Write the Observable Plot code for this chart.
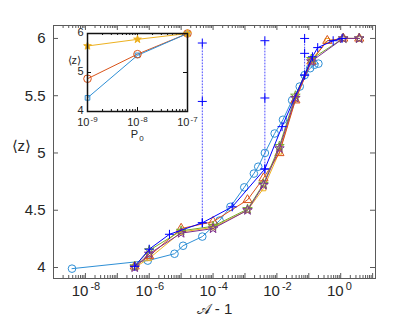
<!DOCTYPE html>
<html><head><meta charset="utf-8">
<script src="https://cdn.jsdelivr.net/npm/d3@7"></script>
<script src="https://cdn.jsdelivr.net/npm/@observablehq/plot@0.6"></script>
<style>
body{margin:0;background:#fff;}
#wrap{position:relative;width:415px;height:328px;overflow:hidden;}
#inset{position:absolute;left:54px;top:26px;}
</style></head><body><div id="wrap"><div id="main"></div><div id="inset"></div></div>
<script>
// ---------- main chart data ----------
const circX = [3.8e-9, 9e-7, 6.2e-6, 1.15e-5, 4.6e-5, 1.6e-4, 3.5e-4, 9.5e-4, 1.9e-3, 2.6e-3, 4.2e-3, 8.5e-3, 0.0155, 0.030, 0.052, 0.074, 0.11, 0.15, 0.20];
const circY = [3.99, 4.06, 4.12, 4.19, 4.27, 4.41, 4.53, 4.70, 4.82, 4.88, 5.00, 5.17, 5.29, 5.46, 5.58, 5.68, 5.74, 5.77, 5.78];

const plusX = [3.5e-7, 1e-6, 4.3e-6, 4.6e-5, 4e-4, 4.2e-3, 0.0145, 0.074, 0.13, 0.19, 0.58, 1.1];
const plusY = [4.01, 4.16, 4.29, 4.39, 4.53, 4.86, 5.23, 5.68, 5.84, 5.92, 5.98, 6.00];

const clusterX = [3.5e-7, 1e-6, 1e-5, 1e-4, 1.2e-3, 3.8e-3, 0.012, 0.038, 0.12, 0.38, 1.2, 3.8];
const triY   = [4.01, 4.10, 4.34, 4.40, 4.59, 4.78, 5.00, 5.46, 5.80, 5.98, 6.00, 6.00];
const sqY    = [4.00, 4.08, 4.31, 4.35, 4.50, 4.69, 5.01, 5.47, 5.81, 5.98, 6.00, 6.00];
const greenY = [4.01, 4.15, 4.32, 4.36, 4.51, 4.73, 5.06, 5.50, 5.82, null, 6.00, 6.00];
const purpY  = [4.00, 4.12, 4.30, 4.34, 4.50, 4.72, 5.04, 5.48, 5.80, null, 6.00, 6.00];

// dotted vertical spreads (x, y) with plus markers
const dotX = [4.6e-5, 4.6e-5, 4.6e-5, 4.2e-3, 4.2e-3, 4.2e-3, 0.074, 0.074, 0.074];
const dotY = [4.39, 5.45, 5.96, 4.86, 5.48, 5.98, 5.68, 5.87, 6.00];
const dotG = ["a", "a", "a", "b", "b", "b", "c", "c", "c"];

const xMajor = [1e-8, 1e-6, 1e-4, 1e-2, 1];
const xMajorExp = ["-8", "-6", "-4", "-2", "0"];
const yTicks = [4, 4.5, 5, 5.5, 6];
const yTickLabels = ["4", "4.5", "5", "5.5", "6"];

// ---------- inset data ----------
const insetX = [1e-9, 1e-8, 1e-7];
const insetBlue = [4.35, 5.44, 6.0];
const insetOrange = [4.84, 5.47, 6.0];
const insetYellow = [5.68, 5.85, 6.0];
const insetXTicks = [1e-9, 1e-8, 1e-7];
const insetXExp = ["-9", "-8", "-7"];
const insetYTicks = [4, 5, 6];
const insetYLabels = ["4", "5", "6"];

const C = {lb: "#2E8FD6", db: "#0000FF", or: "#D95319", ye: "#EDB120", pu: "#7E2F8E", gr: "#77AC30"};
const font = "'Liberation Sans', Arial, Helvetica, sans-serif";

const zip = (xs, ys) => xs.map((x, i) => ({x, y: ys[i]})).filter(d => d.y != null);

// log minor ticks
function logTicks(lo, hi) {
  const major = [], minor = [];
  for (let e = Math.floor(Math.log10(lo)); e <= Math.ceil(Math.log10(hi)); e++) {
    for (let m = 1; m <= 9; m++) {
      const v = m * Math.pow(10, e);
      if (v < lo * 0.9999 || v > hi * 1.0001) continue;
      (m === 1 ? major : minor).push(v);
    }
  }
  return {major, minor};
}

// ---------- main plot ----------
const W = 415, H = 328, mL = 53, mR = 40, mT = 25, mB = 50;
const fw = W - mL - mR, fh = H - mT - mB;
const xDomain = [1e-9, 12.3], yDomain = [3.904, 6.113];
const lt = logTicks(xDomain[0], xDomain[1]);
const frameC = "#5a5a5a";

const series = [
  {data: zip(circX, circY), color: C.lb, symbol: "circle", r: 3.8},
  {data: zip(clusterX, sqY), color: C.ye, symbol: "square", r: 2.6},
  {data: zip(clusterX, triY), color: C.or, symbol: "triangle", r: 3.4},
  {data: zip(clusterX, greenY), color: C.gr, symbol: "star", r: 3.0},
  {data: zip(clusterX, purpY), color: C.pu, symbol: "star", r: 3.0},
  {data: zip(plusX, plusY), color: C.db, symbol: "plus", r: 3.0}
];

const dotData = dotX.map((x, i) => ({x, y: dotY[i], g: dotG[i]}));

const marks = [
  Plot.tickX(lt.minor, {x: d => d, insetTop: fh - 3, stroke: frameC}),
  Plot.tickX(lt.minor, {x: d => d, insetBottom: fh - 3, stroke: frameC}),
  Plot.tickX(lt.major, {x: d => d, insetTop: fh - 5, stroke: frameC}),
  Plot.tickX(lt.major, {x: d => d, insetBottom: fh - 5, stroke: frameC}),
  Plot.tickY(yTicks, {y: d => d, insetRight: fw - 5, stroke: frameC}),
  Plot.tickY(yTicks, {y: d => d, insetLeft: fw - 5, stroke: frameC}),
  Plot.line(dotData, {x: "x", y: "y", z: "g", stroke: "#4a4aff", strokeWidth: 1, strokeDasharray: "1,2"}),
  Plot.dot(dotData, {x: "x", y: "y", symbol: "plus", r: 3.0, stroke: C.db, strokeWidth: 1})
];
for (const s of series) {
  marks.push(Plot.line(s.data, {x: "x", y: "y", stroke: s.color, strokeWidth: 1}));
  marks.push(Plot.dot(s.data, {x: "x", y: "y", symbol: s.symbol, r: s.r, stroke: s.color, fill: "none", strokeWidth: 1}));
}
marks.push(
  Plot.frame({stroke: frameC}),
  Plot.text(yTicks, {y: d => d, text: (d, i) => yTickLabels[i], frameAnchor: "left", textAnchor: "end", dx: -8, fontSize: 15, fill: "#262626"}),
  Plot.text(xMajor, {x: d => d, text: () => "10", frameAnchor: "bottom", textAnchor: "end", dx: 3, dy: 17, fontSize: 15, fill: "#262626"}),
  Plot.text(xMajor, {x: d => d, text: (d, i) => xMajorExp[i], frameAnchor: "bottom", textAnchor: "start", dx: 5, dy: 11, fontSize: 11, fill: "#262626"}),
  Plot.text(["\u{1D49C} - 1"], {frameAnchor: "bottom", dy: 35, fontSize: 15, fill: "#262626"}),
  Plot.text(["\u27E8z\u27E9"], {frameAnchor: "left", dx: -42, dy: -6, fontSize: 15, fill: "#262626"})
);

const main = Plot.plot({
  width: W, height: H, marginLeft: mL, marginRight: mR, marginTop: mT, marginBottom: mB,
  x: {type: "log", domain: xDomain, axis: null},
  y: {domain: yDomain, axis: null},
  style: {fontFamily: font, background: "white"},
  marks
});
document.getElementById("main").appendChild(main);

// ---------- inset ----------
const iW = 140, iH = 122, iL = 33, iR = 7, iT = 7, iB = 37;
const ifw = iW - iL - iR, ifh = iH - iT - iB;
const ilt = logTicks(1e-9, 1e-7);
const insetMarks = [
  Plot.tickX(ilt.minor, {x: d => d, insetTop: ifh - 2, stroke: "#111"}),
  Plot.tickX(ilt.minor, {x: d => d, insetBottom: ifh - 2, stroke: "#111"}),
  Plot.tickX(ilt.major, {x: d => d, insetTop: ifh - 4, stroke: "#111"}),
  Plot.tickX(ilt.major, {x: d => d, insetBottom: ifh - 4, stroke: "#111"}),
  Plot.tickY(insetYTicks, {y: d => d, insetRight: ifw - 4, stroke: "#111"}),
  Plot.tickY(insetYTicks, {y: d => d, insetLeft: ifw - 4, stroke: "#111"}),
  Plot.line(zip(insetX, insetYellow), {x: "x", y: "y", stroke: C.ye, strokeWidth: 1}),
  Plot.line(zip(insetX, insetOrange), {x: "x", y: "y", stroke: C.or, strokeWidth: 1}),
  Plot.line(zip(insetX, insetBlue), {x: "x", y: "y", stroke: C.lb, strokeWidth: 1}),
  Plot.dot(zip(insetX, insetBlue), {x: "x", y: "y", symbol: "square", r: 2.6, stroke: C.lb, fill: "none", strokeWidth: 1}),
  Plot.dot(zip(insetX, insetOrange), {x: "x", y: "y", symbol: "circle", r: 3.8, stroke: C.or, fill: "none", strokeWidth: 1}),
  Plot.dot(zip(insetX, insetYellow), {x: "x", y: "y", symbol: "star", r: 2.4, stroke: C.ye, fill: C.ye, strokeWidth: 1}),
  Plot.frame({stroke: "#111", strokeWidth: 1.5}),
  Plot.text(insetYTicks, {y: d => d, text: (d, i) => insetYLabels[i], frameAnchor: "left", textAnchor: "end", dx: -4, dy: -1, fontSize: 11, fill: "#262626"}),
  Plot.text(insetXTicks, {x: d => d, text: () => "10", frameAnchor: "bottom", textAnchor: "end", dx: 2, dy: 14, fontSize: 11, fill: "#262626"}),
  Plot.text(insetXTicks, {x: d => d, text: (d, i) => insetXExp[i], frameAnchor: "bottom", textAnchor: "start", dx: 3, dy: 10, fontSize: 8, fill: "#262626"}),
  Plot.text(["P"], {frameAnchor: "bottom", dx: -3, dy: 26, fontSize: 11, fill: "#262626"}),
  Plot.text(["0"], {frameAnchor: "bottom", dx: 4, dy: 29, fontSize: 8, fill: "#262626"}),
  Plot.text(["\u27E8z\u27E9"], {frameAnchor: "left", dx: -20, dy: -12, fontSize: 11, fill: "#262626"})
];
const inset = Plot.plot({
  width: iW, height: iH, marginLeft: iL, marginRight: iR, marginTop: iT, marginBottom: iB,
  x: {type: "log", domain: [1e-9, 1e-7], axis: null},
  y: {domain: [4, 6], axis: null},
  style: {fontFamily: font, background: "transparent", overflow: "visible"},
  marks: insetMarks
});
document.getElementById("inset").appendChild(inset);
</script></body></html>
